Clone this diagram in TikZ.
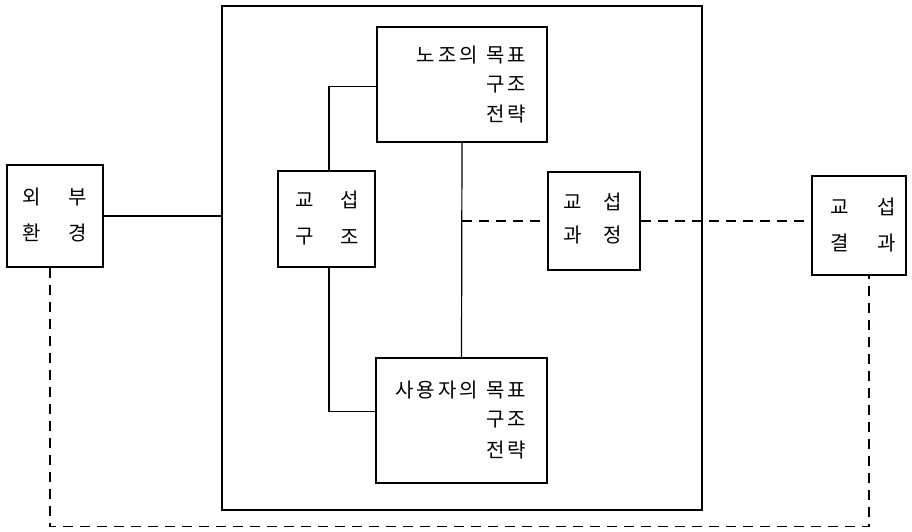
\documentclass[tikz,border=0pt]{standalone}
\usepackage{fontspec}
\newfontfamily\kr[LetterSpace=15]{Noto Sans CJK KR}
\begin{document}
\begin{tikzpicture}[x=1pt,y=-1pt,
  box/.style={draw,line width=1.2pt,inner sep=0pt},
  lbl/.style={font=\kr\fontsize{20}{22}\selectfont,inner sep=0pt},
  conn/.style={line width=1.2pt},
  dconn/.style={line width=1.2pt,dash pattern=on 10pt off 7pt}]
\useasboundingbox (0,0) rectangle (912,531);
% boxes
\node[box,minimum width=96pt,minimum height=102pt] (lb) at (55,216) {};
\node[box,minimum width=480pt,minimum height=504pt] (big) at (462,258) {};
\node[box,minimum width=97pt,minimum height=96pt] (gs) at (326.5,219) {};
\node[box,minimum width=170pt,minimum height=115pt] (top) at (462,84.5) {};
\node[box,minimum width=171pt,minimum height=125pt] (bot) at (461.5,420.5) {};
\node[box,minimum width=92pt,minimum height=98pt] (gp) at (594,221) {};
\node[box,minimum width=94pt,minimum height=99pt] (rb) at (859,225.5) {};
% labels
\node[lbl] (l1) at (32,197) {외};
\node[lbl] (l2) at (78,197) {부};
\node[lbl] (l3) at (32,233) {환};
\node[lbl] (l4) at (78,233) {경};
\node[lbl] (g1) at (305,200) {교};
\node[lbl] (g2) at (350,200) {섭};
\node[lbl] (g3) at (305,237) {구};
\node[lbl] (g4) at (350,237) {조};
\node[lbl] (p1) at (573,202) {교};
\node[lbl] (p2) at (613,202) {섭};
\node[lbl] (p3) at (573,235) {과};
\node[lbl] (p4) at (613,235) {정};
\node[lbl] (r1) at (840,207) {교};
\node[lbl] (r2) at (887,207) {섭};
\node[lbl] (r3) at (840,243) {결};
\node[lbl] (r4) at (887,243) {과};
\node[lbl,anchor=east] (t1) at (526,55) {노조의\hspace{8pt}목표};
\node[lbl,anchor=east] (t2) at (526,85) {구조};
\node[lbl,anchor=east] (t3) at (526,114) {전략};
\node[lbl,anchor=east] (b1) at (526,390) {사용자의\hspace{8pt}목표};
\node[lbl,anchor=east] (b2) at (526,420) {구조};
\node[lbl,anchor=east] (b3) at (526,450) {전략};
% connectors
\draw[conn] (lb.east) -- (lb.east -| big.west);
\draw[conn] ([yshift=-2pt]top.west) -| ([xshift=2.5pt]gs.north);
\draw[conn] ([xshift=2.5pt]gs.south) |- ([yshift=9pt]bot.west);
\draw[conn] (top.south) -- (bot.north);
\coordinate (j) at (top.south |- gp.west);
\draw[dconn] (j) -- (gp.west);
\draw[dconn] (gp.east) -- (gp.east -| rb.west);
\draw[dconn] ([xshift=-5pt]lb.south) -- ++(0,259) -| ([xshift=10pt]rb.south);
\end{tikzpicture}
\end{document}
